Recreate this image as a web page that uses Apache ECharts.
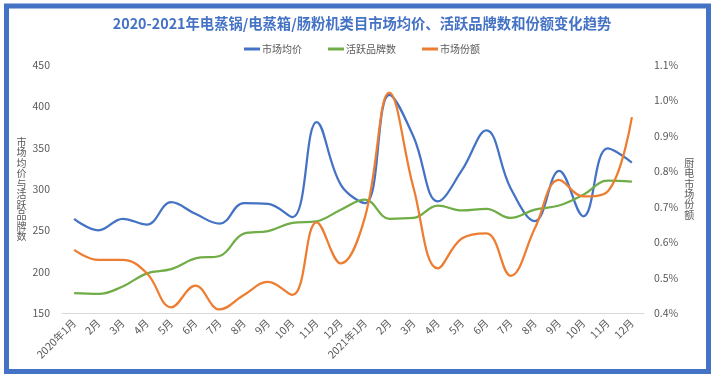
<!DOCTYPE html>
<html>
<head>
<meta charset="utf-8">
<script src="https://cdn.jsdelivr.net/npm/echarts@6/dist/echarts.min.js"></script>
<style>
html,body{margin:0;padding:0;background:#fff;}
#chart{width:724px;height:383px;}
</style>
</head>
<body>
<div id="chart"></div>
<script>
const titleText = '2020-2021年电蒸锅/电蒸箱/肠粉机类目市场均价、活跃品牌数和份额变化趋势';
const categories = ['2020年1月','2月','3月','4月','5月','6月','7月','8月','9月','10月','11月','12月',
  '2021年1月','2月','3月','4月','5月','6月','7月','8月','9月','10月','11月','12月'];
const avgPrice = [264,250,264,257,284,270,258,283,282,266,381,305,283,414,363,285,323,371,301,261,322,267,349,332];
const activeBrands = [174,173,182,198,203,216,219,246,249,259,261,275,287,264,265,280,274,276,265,275,280,293,310,309];
const marketShare = [0.578,0.55,0.55,0.512,0.416,0.477,0.41,0.451,0.488,0.451,0.656,0.54,0.672,1.022,0.752,0.526,0.611,0.625,0.505,0.639,0.776,0.729,0.743,0.953];
const seriesNames = ['市场均价','活跃品牌数','市场份额'];
const leftAxisName = '市场均价与活跃品牌数';
const rightAxisName = '厨电市场份额';

const FONT = '"Noto Sans CJK SC", "Noto Sans", sans-serif';
const chart = echarts.init(document.getElementById('chart'), null, {renderer:'canvas'});
chart.setOption({
  animation:false,
  textStyle:{fontFamily:FONT},
  graphic:[{
    type:'rect', silent:true,
    shape:{x:6.5, y:6, width:702, height:365.5},
    style:{fill:'none', stroke:'#4472C4', lineWidth:5}
  }],
  title:{
    text:titleText, left:'center', top:11,
    textStyle:{color:'#4472C4', fontSize:14.3, fontWeight:'bold', fontFamily:FONT}
  },
  legend:{
    data:seriesNames, top:39, left:'center', itemGap:26, itemWidth:16, itemHeight:3,
    icon:'rect',
    textStyle:{color:'#595959', fontSize:10, fontFamily:FONT, padding:[0,0,0,-3]}
  },
  grid:{left:62, right:80, top:65, bottom:70, containLabel:false},
  xAxis:{
    type:'category', data:categories, boundaryGap:true,
    axisLine:{lineStyle:{color:'#D9D9D9', width:1}},
    axisTick:{show:false},
    axisLabel:{rotate:45, color:'#595959', fontSize:10.5, margin:8, interval:0, fontFamily:FONT}
  },
  yAxis:[{
    type:'value', min:150, max:450, interval:50,
    name:leftAxisName.split('').join('\n'), nameLocation:'middle', nameRotate:0, nameGap:34,
    nameTextStyle:{color:'#595959', fontSize:10, lineHeight:10.5, fontFamily:FONT},
    axisLine:{show:false}, axisTick:{show:false}, splitLine:{show:false},
    axisLabel:{color:'#595959', fontSize:10.5, margin:12, fontFamily:FONT}
  },{
    type:'value', min:0.4, max:1.1, interval:0.1, position:'right',
    name:rightAxisName.split('').join('\n'), nameLocation:'middle', nameRotate:0, nameGap:38,
    nameTextStyle:{color:'#595959', fontSize:10, lineHeight:10.4, fontFamily:FONT},
    axisLine:{show:false}, axisTick:{show:false}, splitLine:{show:false},
    axisLabel:{color:'#595959', fontSize:10.5, margin:10, fontFamily:FONT,
      formatter:function(v){return v.toFixed(1)+'%';}}
  }],
  series:[
    {name:seriesNames[0], type:'line', data:avgPrice, yAxisIndex:0, smooth:0.4, symbol:'none',
      lineStyle:{color:'#4472C4', width:2.25}, itemStyle:{color:'#4472C4'}},
    {name:seriesNames[1], type:'line', data:activeBrands, yAxisIndex:0, smooth:0.4, symbol:'none',
      lineStyle:{color:'#70AD47', width:2.25}, itemStyle:{color:'#70AD47'}},
    {name:seriesNames[2], type:'line', data:marketShare, yAxisIndex:1, smooth:0.4, symbol:'none',
      lineStyle:{color:'#ED7D31', width:2.25}, itemStyle:{color:'#ED7D31'}}
  ]
});
</script>
</body>
</html>
